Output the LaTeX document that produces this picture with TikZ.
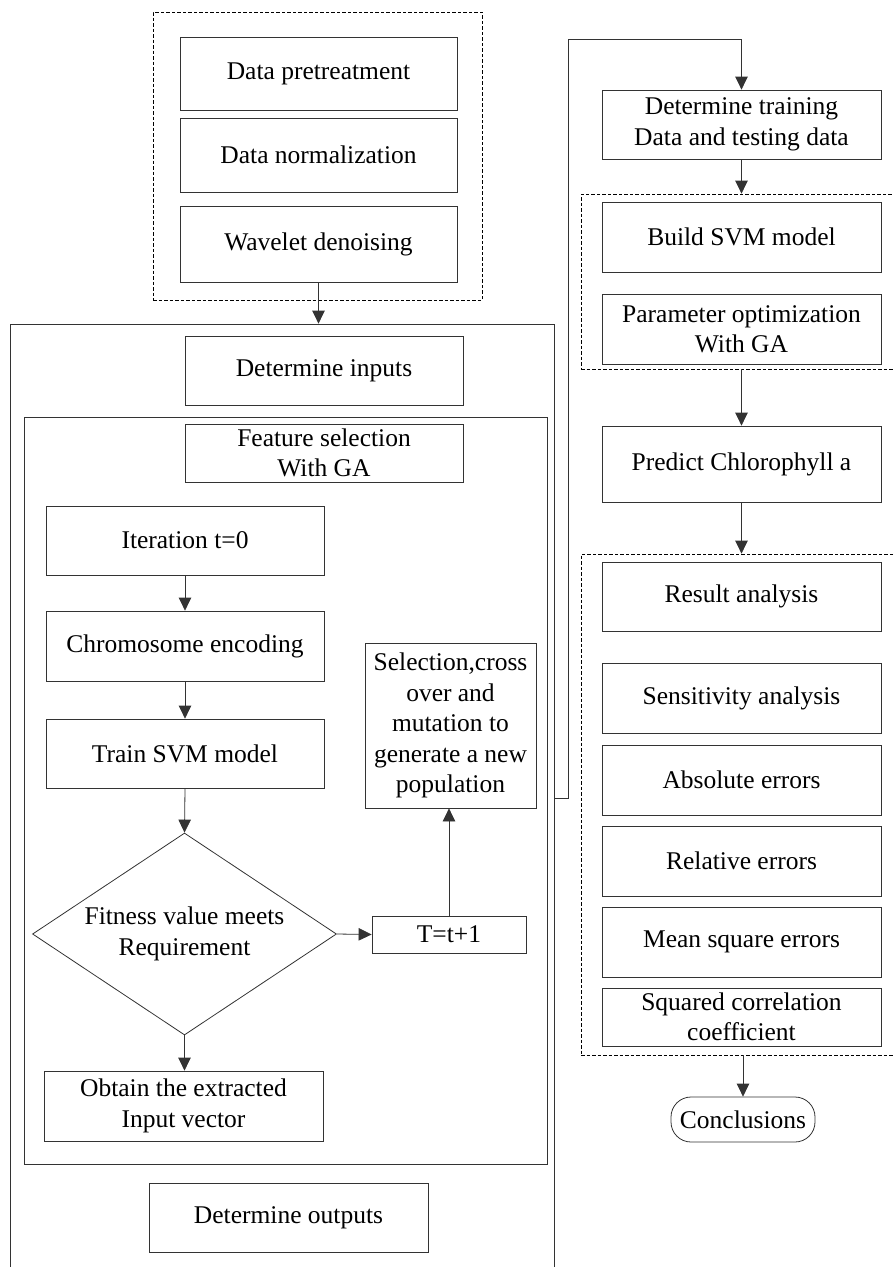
\documentclass[tikz,border=0pt]{standalone}
\usepackage{fontspec}
\setmainfont{Liberation Serif}
\usetikzlibrary{arrows.meta,shapes.geometric}
\tikzset{
  box/.style={draw=black!80, line width=0.8pt, rectangle, inner sep=0pt, align=center,
    font=\fontsize{25.5pt}{30.5pt}\selectfont},
  dbox/.style={draw=black, line width=0.8pt, dash pattern=on 3.5pt off 2pt, inner sep=0pt},
  frame/.style={draw=black!80, line width=0.8pt, inner sep=0pt},
  arr/.style={draw=black!80, line width=0.8pt, -{Triangle[length=13pt,width=12.5pt]}},
  ln/.style={draw=black!80, line width=0.8pt}
}
\begin{document}
\begin{tikzpicture}[x=1pt,y=-1pt]
\useasboundingbox (0,0) rectangle (894,1267);
\clip (0,0) rectangle (894,1267);
% preprocessing block
\node[dbox, minimum width=329pt, minimum height=288pt] (pre) at (317.5,156) {};
\node[box, minimum width=277pt, minimum height=73pt] (dp) at (318.5,73.5) {Data pretreatment};
\node[box, minimum width=277pt, minimum height=74pt] (dn) at (318.5,155) {Data normalization};
\node[box, minimum width=277pt, minimum height=76pt] (wd) at (318.5,244) {Wavelet denoising};
% outer and inner frames
\node[frame, minimum width=544pt, minimum height=976pt] (outer) at (282,812) {};
\node[frame, minimum width=523pt, minimum height=747pt] (inner) at (285.5,790.5) {};
\node[box, minimum width=278pt, minimum height=69pt] (di) at (324,370.5) {Determine inputs};
\node[box, minimum width=278pt, minimum height=58pt] (fs) at (324,453) {Feature selection\\With GA};
\node[box, minimum width=278pt, minimum height=69pt] (it) at (185,540.5) {Iteration t=0};
\node[box, minimum width=278pt, minimum height=70pt] (ce) at (185,646) {Chromosome encoding};
\node[box, minimum width=278pt, minimum height=69pt] (ts) at (185,753.5) {Train SVM model};
\node[box, diamond, aspect=1.5, minimum width=304pt, minimum height=202pt] (fv) at (184.5,934) {Fitness value meets\\Requirement};
\node[box, minimum width=154pt, minimum height=37pt] (tt) at (449,934.5) {T=t+1};
\node[box, minimum width=171pt, minimum height=165pt] (sel) at (450.5,725.5) {Selection,cross\\over and\\mutation to\\generate a new\\population};
\node[box, minimum width=279pt, minimum height=70pt] (ob) at (183.5,1106) {Obtain the extracted\\Input vector};
\node[box, minimum width=279pt, minimum height=69pt] (do) at (288.5,1217.5) {Determine outputs};
% right column
\node[box, minimum width=279pt, minimum height=69pt] (dt) at (741.5,124.5) {Determine training\\Data and testing data};
\node[dbox, minimum width=329pt, minimum height=175pt] (d1) at (745.5,281.5) {};
\node[box, minimum width=279pt, minimum height=70pt] (bs) at (741.5,237) {Build SVM model};
\node[box, minimum width=279pt, minimum height=70pt] (po) at (741.5,329) {Parameter optimization\\With GA};
\node[box, minimum width=279pt, minimum height=76pt] (pc) at (741.5,464) {Predict Chlorophyll a};
\node[dbox, minimum width=329pt, minimum height=501pt] (d2) at (745.5,804.5) {};
\node[box, minimum width=279pt, minimum height=69pt] (ra) at (741.5,596.5) {Result analysis};
\node[box, minimum width=279pt, minimum height=70pt] (sa) at (741.5,698) {Sensitivity analysis};
\node[box, minimum width=279pt, minimum height=70pt] (ae) at (741.5,780) {Absolute errors};
\node[box, minimum width=279pt, minimum height=70pt] (re) at (741.5,861) {Relative errors};
\node[box, minimum width=279pt, minimum height=70pt] (ms) at (741.5,942) {Mean square errors};
\node[box, minimum width=279pt, minimum height=58pt] (sc) at (741.5,1017) {Squared correlation\\coefficient};
\node[box, rounded corners=20pt, minimum width=144pt, minimum height=45pt] (cl) at (743,1119.5) {Conclusions};
% connectors
\coordinate (c1) at (568,798);
\coordinate (c2) at (568,39);
\draw[arr] (wd.south) -- (wd.south |- outer.north);
\draw[arr] (it) -- (ce);
\draw[arr] (ce) -- (ts);
\draw[arr] (ts.south) -- (fv.north);
\draw[arr] (fv.east) -- (tt.west);
\draw[arr] (tt.north) -- (tt.north |- sel.south);
\draw[arr] (fv.south) -- (fv.south |- ob.north);
\draw[arr] (outer.east |- c1) -- (c1) -- (c2) -| (dt.north);
\draw[arr] (dt.south) -- (dt.south |- d1.north);
\draw[arr] (pc.north |- d1.south) -- (pc.north);
\draw[arr] (pc.south) -- (pc.south |- d2.north);
\draw[arr] (cl.north |- d2.south) -- (cl.north);
\end{tikzpicture}
\end{document}
